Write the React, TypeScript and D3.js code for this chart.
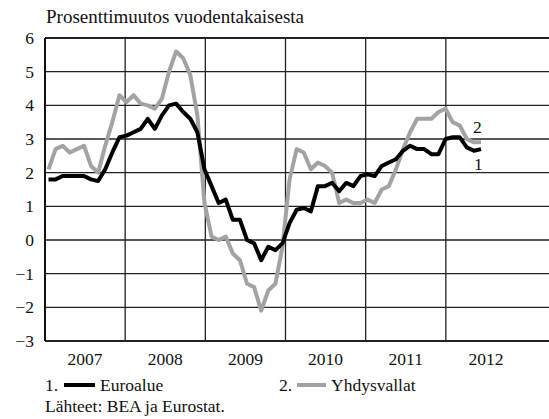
import React from "react";
import * as d3 from "d3";

// monthly values, Jan 2007 - Feb 2012
const euroArea = [
  1.8, 1.8, 1.9, 1.9, 1.9, 1.9, 1.8, 1.75, 2.1, 2.6, 3.05, 3.1,
  3.2, 3.3, 3.6, 3.3, 3.7, 4.0, 4.05, 3.8, 3.6, 3.2, 2.1, 1.6,
  1.1, 1.2, 0.6, 0.6, 0.0, -0.1, -0.6, -0.2, -0.3, -0.1, 0.5, 0.9,
  0.95, 0.85, 1.6, 1.6, 1.7, 1.45, 1.7, 1.6, 1.9, 1.95, 1.9, 2.2,
  2.3, 2.4, 2.65, 2.8, 2.7, 2.7, 2.55, 2.55, 3.0, 3.05, 3.05, 2.75,
  2.65, 2.7,
];
const unitedStates = [
  2.1, 2.7, 2.8, 2.6, 2.7, 2.8, 2.2, 2.0, 2.8, 3.5, 4.3, 4.1,
  4.3, 4.05, 4.0, 3.9, 4.2, 5.0, 5.6, 5.4, 4.9, 3.7, 1.1, 0.1,
  0.0, 0.1, -0.4, -0.6, -1.3, -1.4, -2.1, -1.5, -1.3, -0.2, 1.8, 2.7,
  2.6, 2.1, 2.3, 2.2, 2.0, 1.1, 1.2, 1.1, 1.1, 1.2, 1.1, 1.5,
  1.6, 2.1, 2.7, 3.2, 3.6, 3.6, 3.6, 3.8, 3.9, 3.5, 3.4, 3.0,
  2.9, 2.9,
];
const years = ["2007", "2008", "2009", "2010", "2011", "2012"];
const yTicks = [-3, -2, -1, 0, 1, 2, 3, 4, 5, 6];

const W = 549;
const H = 419;
const left = 45;
const top = 38;
const bottom = 341;
const right = 549;
const font = '"Liberation Serif", "DejaVu Serif", serif';
const fs = 17.5;

export default function App() {
  const y = d3.scaleLinear().domain([-3, 6]).range([bottom, top]);
  const yearX = d3.scaleBand().domain(years).range([left, 526]);
  const x = d3.scaleLinear().domain([0, euroArea.length - 1]).range([48.5, 481]);

  const line = d3
    .line<number>()
    .x((_, i) => x(i))
    .y((d) => y(d));

  const fmt = (v: number) => (v < 0 ? "\u2212" + Math.abs(v) : String(v));
  const ts = { fontFamily: font, fill: "#111" };

  return (
    <svg
      width={W}
      height={H}
      style={{ position: "absolute", left: 0, top: 0, background: "#fff" }}
    >
      <text x={46} y={23} fontSize={19} style={ts}>
        Prosenttimuutos vuodentakaisesta
      </text>

      {/* horizontal grid */}
      {yTicks.map((t) => (
        <line
          key={t}
          x1={left}
          x2={right}
          y1={y(t)}
          y2={y(t)}
          stroke="#222"
          strokeWidth={t === -3 || t === 6 ? 2 : 1.3}
        />
      ))}
      {/* vertical grid at year boundaries */}
      {years.slice(1).map((yr) => (
        <line
          key={yr}
          x1={yearX(yr)}
          x2={yearX(yr)}
          y1={top}
          y2={bottom}
          stroke="#222"
          strokeWidth={1.3}
        />
      ))}
      <line x1={left} x2={left} y1={top} y2={bottom} stroke="#111" strokeWidth={2} />

      {yTicks.map((t) => (
        <text key={t} x={34} y={y(t)} dy="0.35em" textAnchor="end" fontSize={fs} style={ts}>
          {fmt(t)}
        </text>
      ))}
      {years.map((yr) => (
        <text
          key={yr}
          x={(yearX(yr) ?? 0) + yearX.bandwidth() / 2}
          y={365}
          textAnchor="middle"
          fontSize={fs}
          style={ts}
        >
          {yr}
        </text>
      ))}

      <path d={line(unitedStates) ?? ""} fill="none" stroke="#a3a3a3" strokeWidth={4} strokeLinejoin="round" />
      <path d={line(euroArea) ?? ""} fill="none" stroke="#000" strokeWidth={4} strokeLinejoin="round" />

      <text x={473} y={133} fontSize={fs} style={ts}>2</text>
      <text x={474} y={170} fontSize={fs} style={ts}>1</text>

      {/* legend */}
      <text x={45} y={391} fontSize={fs} style={ts}>1.</text>
      <line x1={64} x2={95} y1={385} y2={385} stroke="#000" strokeWidth={4} />
      <text x={100} y={391} fontSize={fs} style={ts}>Euroalue</text>
      <text x={279} y={391} fontSize={fs} style={ts}>2.</text>
      <line x1={297} x2={326} y1={385} y2={385} stroke="#a3a3a3" strokeWidth={4} />
      <text x={331} y={391} fontSize={fs} style={ts}>Yhdysvallat</text>
      <text x={45} y={412} fontSize={fs} style={ts}>Lähteet: BEA ja Eurostat.</text>
    </svg>
  );
}
